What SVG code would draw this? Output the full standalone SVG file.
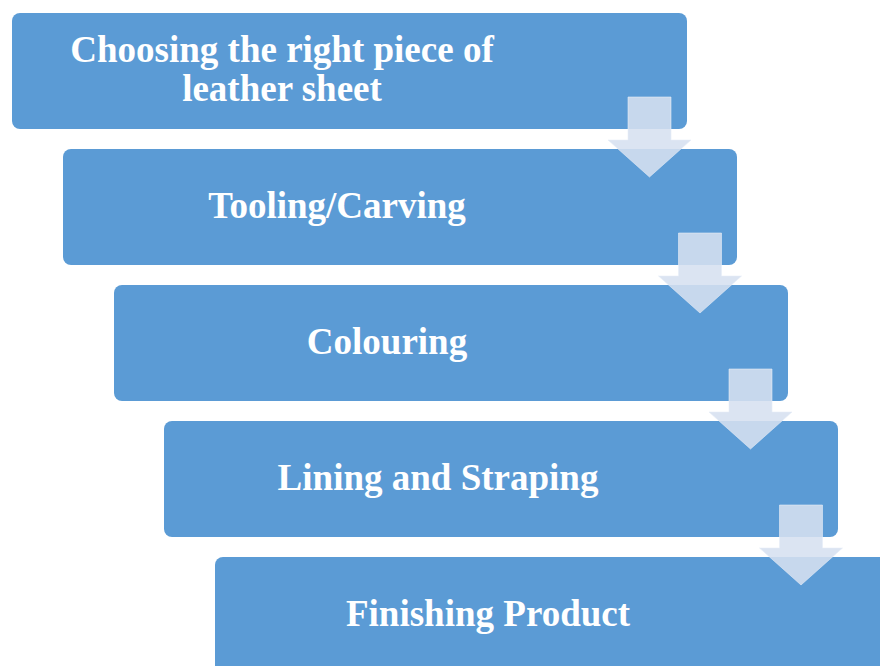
<svg xmlns="http://www.w3.org/2000/svg" width="880" height="666" viewBox="0 0 880 666">
  <style>
    .step { fill: #5b9bd5; }
    .label { font-family: "Liberation Serif", "Times New Roman", serif; font-weight: bold; font-size: 37px; fill: #ffffff; text-anchor: middle; }
    .flow { fill: rgb(214,224,240); fill-opacity: 0.88; stroke: #e6edf7; stroke-opacity: 0.6; stroke-width: 1; }
  </style>
  <defs>
    <path id="down" d="M -21.5 0 H 21.5 V 43 H 41.5 L 0 80 L -41.5 43 H -21.5 Z"/>
  </defs>

  <g id="step1">
    <rect class="step" x="12" y="13" width="675" height="116" rx="8"/>
    <text class="label" x="282" y="62">Choosing the right piece of</text>
    <text class="label" x="282" y="101">leather sheet</text>
  </g>
  <g id="step2">
    <rect class="step" x="63" y="149" width="674" height="116" rx="8"/>
    <text class="label" x="337" y="218">Tooling/Carving</text>
  </g>
  <g id="step3">
    <rect class="step" x="114" y="285" width="674" height="116" rx="8"/>
    <text class="label" x="387" y="354">Colouring</text>
  </g>
  <g id="step4">
    <rect class="step" x="164" y="421" width="674" height="116" rx="8"/>
    <text class="label" x="438" y="490">Lining and Straping</text>
  </g>
  <g id="step5">
    <rect class="step" x="215" y="557" width="680" height="120" rx="8"/>
    <text class="label" x="488" y="626">Finishing Product</text>
  </g>

  <g id="connectors">
    <use href="#down" class="flow" x="649.5" y="97"/>
    <use href="#down" class="flow" x="700" y="233"/>
    <use href="#down" class="flow" x="750.5" y="369"/>
    <use href="#down" class="flow" x="801" y="505"/>
  </g>
</svg>
